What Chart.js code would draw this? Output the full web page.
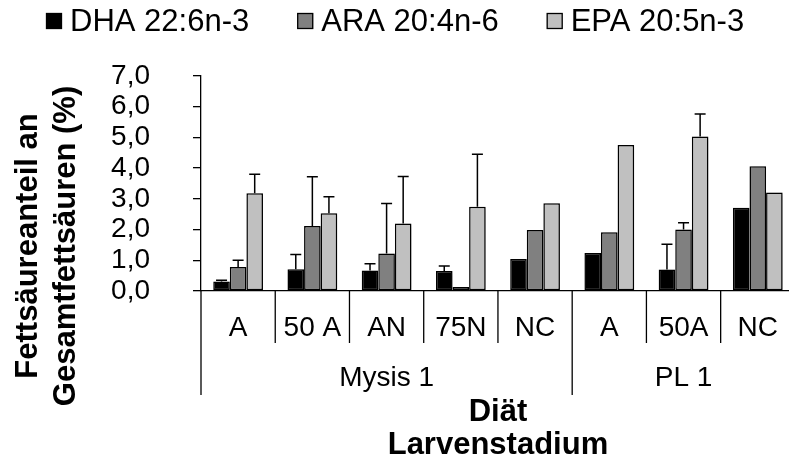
<!DOCTYPE html>
<html lang="de">
<head>
<meta charset="utf-8">
<title>Fettsäureanteil an Gesamtfettsäuren</title>
<script src="https://cdn.jsdelivr.net/npm/chart.js@4.4.1/dist/chart.umd.min.js"></script>
<style>
    html, body { margin: 0; padding: 0; background: #fff; overflow: hidden; }
    #wrap { width: 798px; height: 464px; }
</style>
</head>
<body>
<div id="wrap"><canvas id="fattyChart" width="798" height="464"></canvas></div>
<script>
// Data
const categories = ['A', '50 A', 'AN', '75N', 'NC', 'A', '50A', 'NC'];
const groupLabels = ['Mysis 1', 'PL 1'];
const groupSizes = [5, 3];
const seriesNames = ['DHA 22:6n-3', 'ARA 20:4n-6', 'EPA 20:5n-3'];
const dhaValues = [0.31, 0.71, 0.67, 0.65, 1.04, 1.24, 0.70, 2.71];
const araValues = [0.78, 2.12, 1.22, 0.13, 1.99, 1.91, 2.00, 4.06];
const epaValues = [3.18, 2.53, 2.20, 2.74, 2.86, 4.75, 5.03, 3.21];
const dhaErrors = [0.04, 0.48, 0.22, 0.16, 0, 0, 0.82, 0];
const araErrors = [0.22, 1.60, 1.63, 0, 0, 0, 0.22, 0];
const epaErrors = [0.62, 0.54, 1.53, 1.71, 0, 0, 0.73, 0];
const yTickLabels = ['0,0', '1,0', '2,0', '3,0', '4,0', '5,0', '6,0', '7,0'];
const yTitleLines = ['Fettsäureanteil an', 'Gesamtfettsäuren (%)'];
const xTitleLines = ['Diät', 'Larvenstadium'];

const FONT = "'Liberation Sans', Arial, Helvetica, sans-serif";

// soft drop shadow behind the bars, like the office chart
const shadowPlugin = {
    id: 'barShadow',
    beforeDatasetsDraw(chart) {
        const ctx = chart.ctx;
        ctx.save();
        ctx.shadowColor = 'rgba(0, 0, 0, 0.3)';
        ctx.shadowBlur = 4;
        ctx.shadowOffsetX = 2;
        ctx.shadowOffsetY = 1;
    },
    afterDatasetsDraw(chart) {
        chart.ctx.restore();
    }
};

// upper error bars only
const errorBarPlugin = {
    id: 'errorBars',
    afterDatasetsDraw(chart) {
        const ctx = chart.ctx;
        const y = chart.scales.y;
        ctx.save();
        ctx.strokeStyle = '#000';
        ctx.lineWidth = 1.5;
        chart.data.datasets.forEach((ds, di) => {
            const meta = chart.getDatasetMeta(di);
            meta.data.forEach((bar, i) => {
                const err = ds.errors[i];
                if (!err) return;
                const top = y.getPixelForValue(ds.data[i] + err);
                ctx.beginPath();
                ctx.moveTo(bar.x, bar.y);
                ctx.lineTo(bar.x, top);
                ctx.moveTo(bar.x - 5.5, top);
                ctx.lineTo(bar.x + 5.5, top);
                ctx.stroke();
            });
        });
        ctx.restore();
    }
};

// legend, category dividers, group row and axis titles
const decorPlugin = {
    id: 'axisDecor',
    afterDraw(chart) {
        const { ctx, chartArea, scales: { x } } = chart;
        const half = (x.getPixelForValue(1) - x.getPixelForValue(0)) / 2;
        const bottom = chartArea.bottom;

        ctx.save();
        ctx.strokeStyle = '#000';
        ctx.fillStyle = '#000';
        ctx.lineWidth = 1.3;

        const groupEnds = [];
        let acc = 0;
        groupSizes.forEach(n => { acc += n; groupEnds.push(acc); });
        for (let i = 0; i <= categories.length; i++) {
            const px = i < categories.length
                ? x.getPixelForValue(i) - half
                : x.getPixelForValue(i - 1) + half;
            const isGroupEdge = i === 0 || groupEnds.includes(i);
            ctx.beginPath();
            ctx.moveTo(px, bottom);
            ctx.lineTo(px, bottom + (isGroupEdge ? 104 : 52));
            ctx.stroke();
        }

        ctx.font = `28px ${FONT}`;
        ctx.textAlign = 'center';
        ctx.textBaseline = 'middle';
        let start = 0;
        groupLabels.forEach((label, g) => {
            const first = x.getPixelForValue(start) - half;
            const last = x.getPixelForValue(start + groupSizes[g] - 1) + half;
            ctx.fillText(label, (first + last) / 2, bottom + 87);
            start += groupSizes[g];
        });

        ctx.font = `bold 31px ${FONT}`;
        const cx = (chartArea.left + chartArea.right) / 2;
        xTitleLines.forEach((line, k) => {
            ctx.fillText(line, cx, bottom + 121 + k * 33);
        });

        ctx.textBaseline = 'alphabetic';
        yTitleLines.forEach((line, k) => {
            ctx.save();
            ctx.translate(37 + k * 38, 246);
            ctx.rotate(-Math.PI / 2);
            ctx.fillText(line, 0, 0);
            ctx.restore();
        });

        ctx.font = `31px ${FONT}`;
        ctx.textAlign = 'left';
        ctx.textBaseline = 'middle';
        let lx = 46;
        chart.data.datasets.forEach(ds => {
            ctx.fillStyle = ds.backgroundColor;
            ctx.fillRect(lx, 13, 16, 16);
            ctx.strokeRect(lx + 0.5, 13.5, 15, 15);
            ctx.fillStyle = '#000';
            ctx.fillText(ds.label, lx + 24, 22);
            lx += 24 + ctx.measureText(ds.label).width + 48;
        });
        ctx.restore();
    }
};

new Chart(document.getElementById('fattyChart'), {
    type: 'bar',
    data: {
        labels: categories,
        datasets: [
            { label: seriesNames[0], data: dhaValues, errors: dhaErrors, backgroundColor: '#000000' },
            { label: seriesNames[1], data: araValues, errors: araErrors, backgroundColor: '#808080' },
            { label: seriesNames[2], data: epaValues, errors: epaErrors, backgroundColor: '#c0c0c0' }
        ]
    },
    options: {
        responsive: false,
        animation: false,
        layout: { padding: { top: 76, left: 0, right: 0, bottom: 0 } },
        datasets: {
            bar: {
                borderColor: '#000',
                borderWidth: 1.5,
                borderSkipped: false,
                categoryPercentage: 0.67,
                barPercentage: 1.0
            }
        },
        plugins: {
            legend: { display: false },
            tooltip: { enabled: false }
        },
        scales: {
            x: {
                grid: { display: true, drawOnChartArea: false, drawTicks: false },
                border: { color: '#000', width: 1.3 },
                ticks: {
                    color: '#000',
                    font: { family: FONT, size: 28 },
                    padding: 20,
                    maxRotation: 0,
                    autoSkip: false
                },
                afterFit(s) { s.height = 173; }
            },
            y: {
                min: 0,
                max: 7,
                ticks: {
                    stepSize: 1,
                    autoSkip: false,
                    color: '#000',
                    font: { family: FONT, size: 28 },
                    padding: 43,
                    callback: (v, i) => yTickLabels[i]
                },
                grid: { drawOnChartArea: false, drawTicks: true, tickLength: 8, color: '#000', lineWidth: 1.3 },
                border: { color: '#000', width: 1.3 },
                afterFit(s) { s.width = 201; }
            }
        }
    },
    plugins: [shadowPlugin, errorBarPlugin, decorPlugin]
});
</script>
</body>
</html>
